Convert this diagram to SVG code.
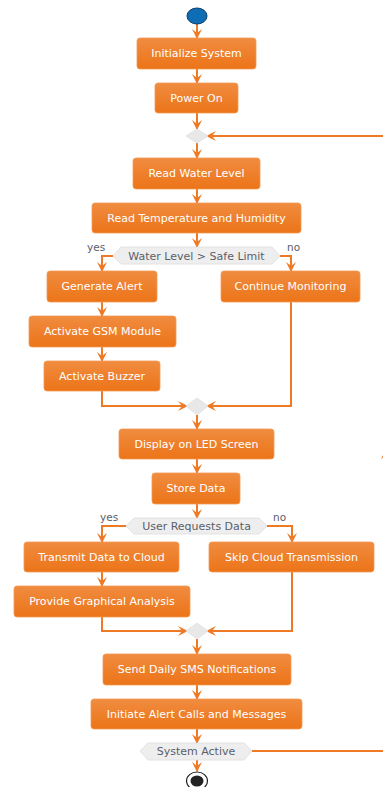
<svg xmlns="http://www.w3.org/2000/svg" width="383" height="787" viewBox="0 0 383 787">
<style>
.box{fill:url(#og);stroke:#F39A55;stroke-width:0.8}
.bt{font-family:"DejaVu Sans",sans-serif;font-size:11px;fill:#FFFFFF;text-anchor:middle;dominant-baseline:central}
.hex{fill:#EEEEEE;stroke:#DDDDDD;stroke-width:0.8}
.ht{font-family:"DejaVu Sans",sans-serif;font-size:11px;fill:#5A5E6A;text-anchor:middle;dominant-baseline:central}
.lab{font-family:"DejaVu Sans",sans-serif;font-size:10.5px;fill:#5A5E6A}
.dia{fill:#E8E8E8;stroke:#E0E0E0;stroke-width:0.8}
.c{fill:none;stroke:#EE7A25;stroke-width:2}
.a{fill:none;stroke:#EE7A25;stroke-width:2;marker-end:url(#ar)}
</style>
<defs>
<linearGradient id="og" x1="0" y1="0" x2="0" y2="1">
<stop offset="0" stop-color="#F08C40"/>
<stop offset="1" stop-color="#EC7418"/>
</linearGradient>
<marker id="ar" viewBox="0 0 10 10" refX="9" refY="5" markerWidth="10" markerHeight="10" markerUnits="userSpaceOnUse" orient="auto">
<path d="M0,0 L10,5 L0,10 L4,5 Z" fill="#EE7A25"/>
</marker>
</defs>
<g id="connectors">
<path class="a" d="M197,23 V38"/>
<path class="a" d="M197,69 V83"/>
<path class="a" d="M197,113 V129"/>
<path class="a" d="M197,143 V158"/>
<path class="a" d="M197,189 V203"/>
<path class="a" d="M197,233 V247"/>
<path class="a" d="M113,256 H102 V271"/>
<path class="a" d="M280,256 H291 V271"/>
<path class="a" d="M102,302 V316"/>
<path class="a" d="M102,347 V361"/>
<path class="a" d="M102,391 V406 H187"/>
<path class="a" d="M291,302 V406 H207"/>
<path class="a" d="M197,415 V429"/>
<path class="a" d="M197,459 V473"/>
<path class="a" d="M197,504 V518"/>
<path class="a" d="M126,526 H102 V542"/>
<path class="a" d="M267,526 H292 V542"/>
<path class="a" d="M102,572 V586"/>
<path class="a" d="M102,617 V631 H187"/>
<path class="a" d="M292,572 V631 H207"/>
<path class="a" d="M197,639 V654"/>
<path class="a" d="M197,685 V699"/>
<path class="a" d="M197,729 V743"/>
<path class="a" d="M197,760 V771"/>
<path class="a" d="M252,751 H386 V450"/>
<path class="a" d="M386,452 V136 H207"/>
</g>
<g id="start"><ellipse cx="197" cy="16" rx="10" ry="8" fill="#0F6DB5" stroke="#0B3E6A" stroke-width="1"/></g>
<g id="n1"><rect class="box" x="137" y="38" width="119" height="31" rx="3"/><text class="bt" x="196.5" y="53.5">Initialize System</text></g>
<g id="n2"><rect class="box" x="155" y="83" width="83" height="30" rx="3"/><text class="bt" x="196.5" y="98">Power On</text></g>
<g id="d1"><path class="dia" d="M186,136 L197,129 L208,136 L197,143 Z"/></g>
<g id="n3"><rect class="box" x="133" y="158" width="127" height="31" rx="3"/><text class="bt" x="196.5" y="173.5">Read Water Level</text></g>
<g id="n4"><rect class="box" x="92" y="203" width="209" height="30" rx="3"/><text class="bt" x="196.5" y="218">Read Temperature and Humidity</text></g>
<g id="h1"><path class="hex" d="M113,256 L121,247 H272 L280,256 L272,264 H121 Z"/><text class="ht" x="196.5" y="256">Water Level &gt; Safe Limit</text>
<text class="lab" x="87" y="251">yes</text><text class="lab" x="287" y="251">no</text></g>
<g id="n5"><rect class="box" x="47" y="271" width="110" height="31" rx="3"/><text class="bt" x="102" y="286.5">Generate Alert</text></g>
<g id="n6"><rect class="box" x="221" y="271" width="139" height="31" rx="3"/><text class="bt" x="290.5" y="286.5">Continue Monitoring</text></g>
<g id="n7"><rect class="box" x="29" y="316" width="147" height="31" rx="3"/><text class="bt" x="102.5" y="331.5">Activate GSM Module</text></g>
<g id="n8"><rect class="box" x="44" y="361" width="116" height="30" rx="3"/><text class="bt" x="102" y="376">Activate Buzzer</text></g>
<g id="d2"><path class="dia" d="M186,406 L197,398 L208,406 L197,415 Z"/></g>
<g id="n9"><rect class="box" x="119" y="429" width="155" height="30" rx="3"/><text class="bt" x="196.5" y="444">Display on LED Screen</text></g>
<g id="n10"><rect class="box" x="152" y="473" width="88" height="31" rx="3"/><text class="bt" x="196" y="488.5">Store Data</text></g>
<g id="h2"><path class="hex" d="M126,526 L134,518 H259 L267,526 L259,534 H134 Z"/><text class="ht" x="196.5" y="526">User Requests Data</text>
<text class="lab" x="100" y="521">yes</text><text class="lab" x="273" y="521">no</text></g>
<g id="n11"><rect class="box" x="24" y="542" width="155" height="30" rx="3"/><text class="bt" x="101.5" y="557">Transmit Data to Cloud</text></g>
<g id="n12"><rect class="box" x="209" y="542" width="165" height="30" rx="3"/><text class="bt" x="291.5" y="557">Skip Cloud Transmission</text></g>
<g id="n13"><rect class="box" x="14" y="586" width="176" height="31" rx="3"/><text class="bt" x="102" y="601.5">Provide Graphical Analysis</text></g>
<g id="d3"><path class="dia" d="M186,631 L197,623 L208,631 L197,639 Z"/></g>
<g id="n14"><rect class="box" x="103" y="654" width="188" height="31" rx="3"/><text class="bt" x="197" y="669.5">Send Daily SMS Notifications</text></g>
<g id="n15"><rect class="box" x="91" y="699" width="211" height="30" rx="3"/><text class="bt" x="196.5" y="714">Initiate Alert Calls and Messages</text></g>
<g id="h3"><path class="hex" d="M140,751 L148,743 H244 L252,751 L244,760 H148 Z"/><text class="ht" x="196" y="751.5">System Active</text></g>
<g id="end"><ellipse cx="197" cy="781" rx="10.5" ry="9" fill="#FFFFFF" stroke="#222222" stroke-width="1.2"/><ellipse cx="197" cy="781" rx="6.5" ry="5.5" fill="#222222"/></g>
</svg>
